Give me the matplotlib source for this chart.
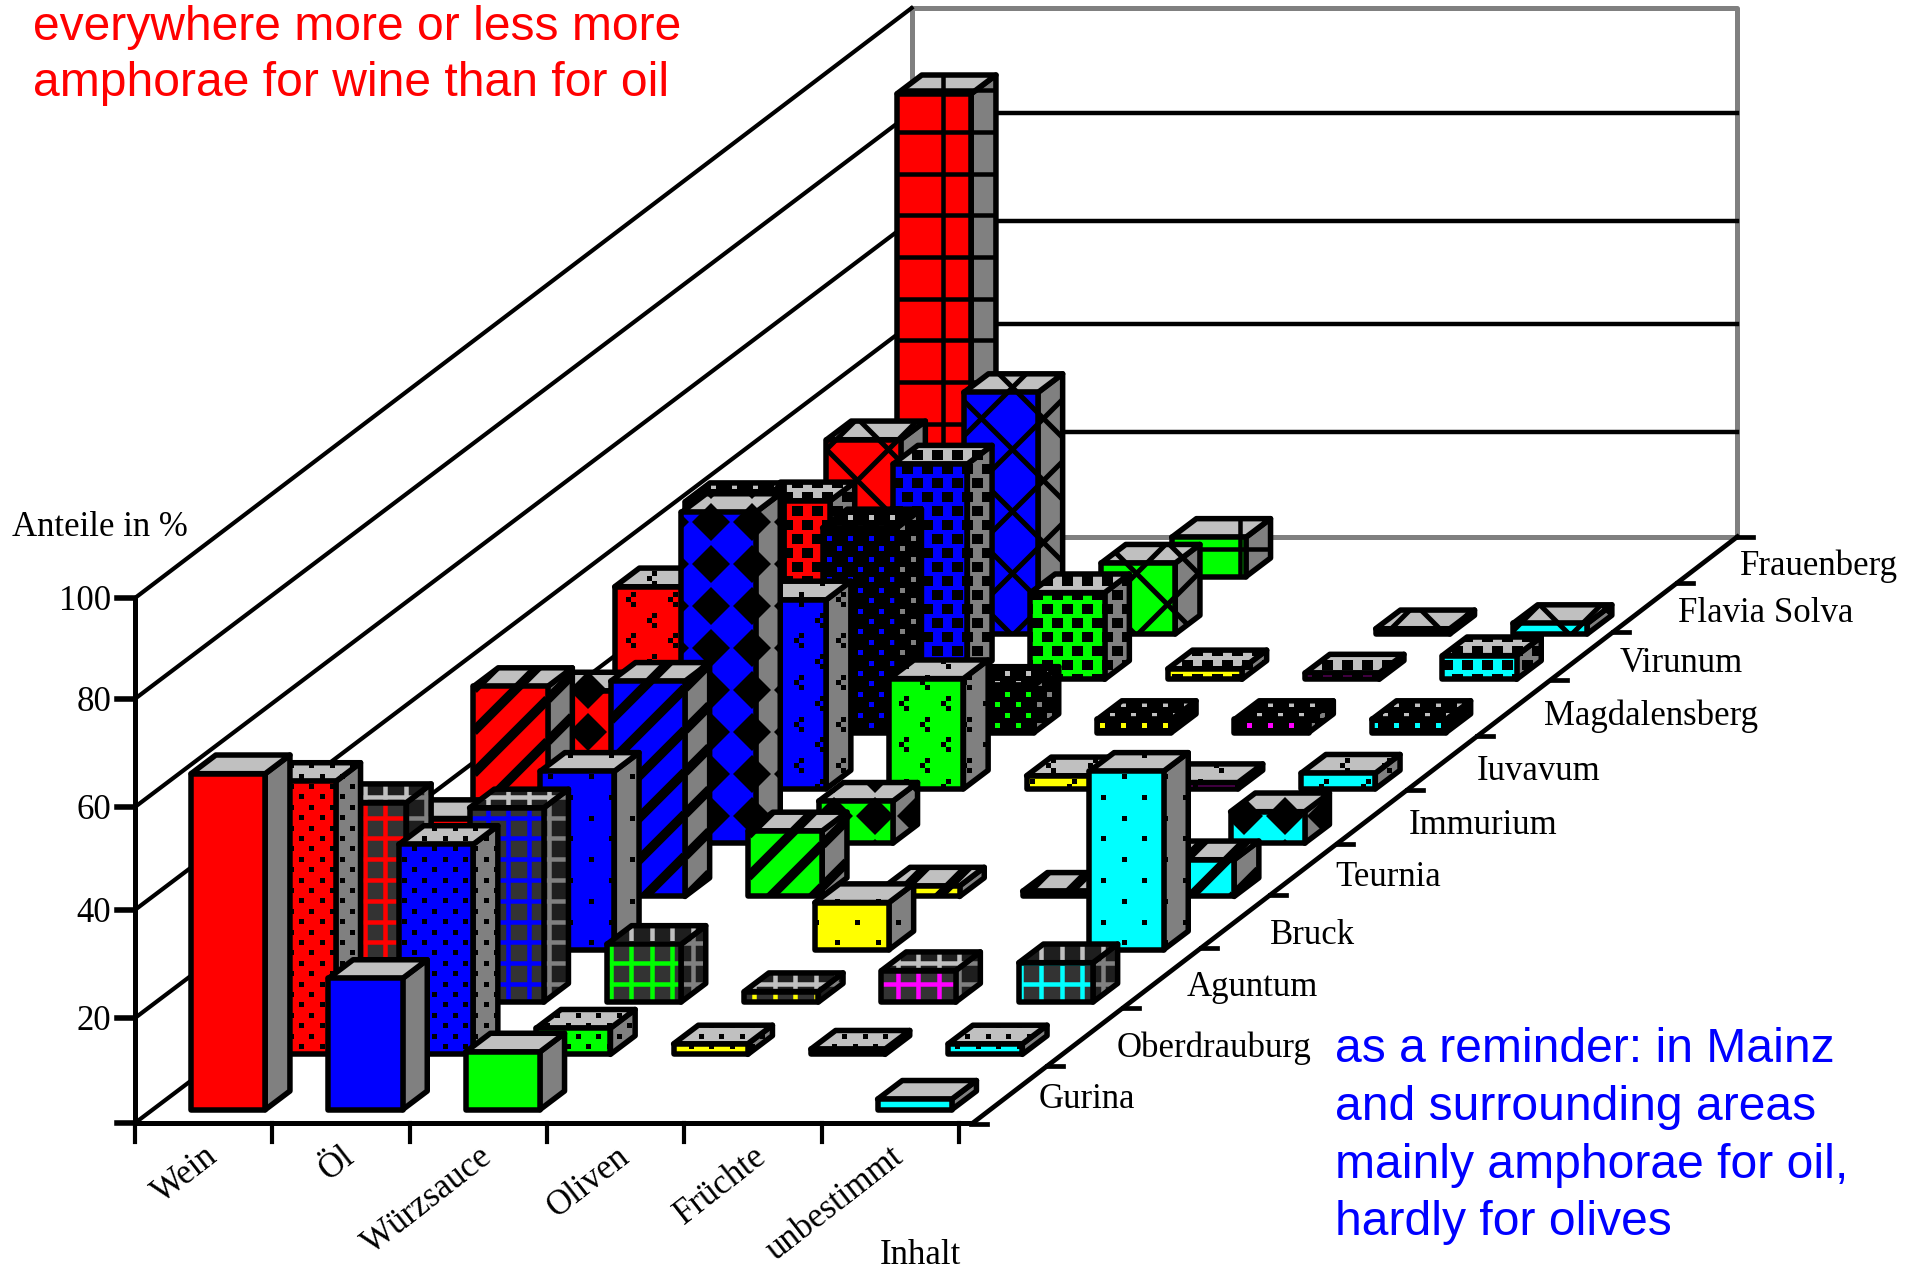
# coding:utf-8
import matplotlib
matplotlib.use('Agg')
import matplotlib.pyplot as plt
from matplotlib.patches import Polygon
from matplotlib.collections import PolyCollection, LineCollection

contents = ['Wein', 'Öl', 'Würzsauce', 'Oliven', 'Früchte', 'unbestimmt']
sites = ['Gurina', 'Oberdrauburg', 'Aguntum', 'Bruck', 'Teurnia', 'Immurium',
         'Iuvavum', 'Magdalensberg', 'Virunum', 'Flavia Solva', 'Frauenberg']
y_ticks = [20, 40, 60, 80, 100]

# one value per site, in percent
wein = [64, 52, 38, 25, 40, 29, 38.5, 44, 34, 37, 92]
oel = [25, 40, 37, 34, 41, 63, 36, 39, 41, 46, 0]
wuerzsauce = [11, 5, 11, 0, 12.5, 8, 21, 9, 16.5, 13.5, 7.5]
oliven = [0, 2, 2, 9, 2, 0, 2.5, 2.5, 2, 0, 0]
fruechte = [0, 1, 6, 0, 1, 0, 1.2, 2.5, 1.2, 1, 0]
unbestimmt = [2, 2, 7.5, 34, 7, 6, 3, 2.5, 4.5, 2, 0]

series = [wein, oel, wuerzsauce, oliven, fruechte, unbestimmt]
colors = ['#ff0000', '#0000ff', '#00ff00', '#ffff00', '#ff00ff', '#00ffff']
patterns = ['solid', 'dots', 'grid', 'sparse', 'stripes', 'diamond',
            'cluster', 'dense', 'blotch', 'cross', 'biggrid']

# the old bitmap has uneven rows and ticks
row_shift = [0, -2, -1, 0, 0, 0, -1, -4, -4, 4, 0]
tick_level = [20, 40.6, 60.2, 80.8, 100]
depth_tick_y = [1124, 1066, 1008, 948, 895, 844, 790, 736, 680, 632, 583, 537]
site_label_x = [1039, 1117, 1187, 1270, 1335, 1409, 1477, 1544, 1620, 1678, 1740]
site_label_y = [1100, 1048, 987, 935, 877, 826, 771, 716, 663, 614, 566]

X0, Y0 = 135, 1123
CAT_W, DEPTH_X, DEPTH_Y, UNIT = 137.3, 70.6, 53.3, 5.25
LW = 5.5 * 0.72
SERIF = 'Liberation Serif'
SANS = 'Liberation Sans'
FS = 25
NOTE_FS = 34.6


def proj(c, d, v=0):
    return X0 + c * CAT_W + d * DEPTH_X, Y0 - d * DEPTH_Y - v * UNIT


# brushes are laid out on the screen, not on the bar, like the old GDI ones
def lattice(poly, ax0, ay0, px, py, stagger=True):
    xs = [p[0] for p in poly]
    ys = [p[1] for p in poly]
    pts = []
    j0 = int((ay0 - max(ys)) / py) - 2
    j1 = int((ay0 - min(ys)) / py) + 2
    i0 = int((min(xs) - ax0) / px) - 2
    i1 = int((max(xs) - ax0) / px) + 2
    for j in range(j0, j1):
        y = ay0 - j * py
        for i in range(i0, i1):
            shift = 0.5 * (j % 2) if stagger else 0
            pts.append((ax0 + (i + shift) * px, y))
    return pts


def square(x, y, s):
    return [(x - s / 2, y - s / 2), (x + s / 2, y - s / 2), (x + s / 2, y + s / 2), (x - s / 2, y + s / 2)]


def start_at(anchor, period, low):
    return low - (low - anchor) % period


def pattern_artist(kind, poly, fg):
    xs = [p[0] for p in poly]
    ys = [p[1] for p in poly]
    xmin, xmax, ymin, ymax = min(xs), max(xs), min(ys), max(ys)
    if kind in ('dots', 'sparse', 'dense', 'blotch'):
        ax0, ay0, px, py, s = {'dots': (14.6, 6.5, 20.5, 10.4, 5), 'sparse': (17, 27.6, 41, 20.8, 5),
                               'dense': (10.3, 18.3, 21, 10.4, 5), 'blotch': (17.4, 7, 20, 14, 10.5)}[kind]
        cells = [square(x, y, s) for x, y in lattice(poly, ax0, ay0, px, py)]
        return PolyCollection(cells, facecolors=fg, edgecolors='none')
    if kind == 'cluster':
        cells = []
        for x, y in lattice(poly, 20.7, 37.6, 42, 20.8):
            cells += [square(x + 4, y - 5, 5), square(x - 1, y, 5), square(x + 4, y + 5, 5)]
        return PolyCollection(cells, facecolors=fg, edgecolors='none')
    if kind == 'diamond':
        r = 19
        cells = [[(x - r, y), (x, y - r), (x + r, y), (x, y + r)]
                 for x, y in lattice(poly, 14, 18, 41, 42, stagger=False)]
        return PolyCollection(cells, facecolors=fg, edgecolors='none')
    segs = []
    if kind in ('grid', 'biggrid'):
        if kind == 'grid':
            ax0, ay0, px, py = 16, 6.5, 20.5, 20.8
        else:
            ax0, ay0, px, py = 943, 6.9, 99, 41.7
        x = start_at(ax0, px, xmin)
        while x < xmax:
            segs.append([(x, ymin), (x, ymax)])
            x += px
        y = start_at(ay0, py, ymin)
        while y < ymax:
            segs.append([(xmin, y), (xmax, y)])
            y += py
        return LineCollection(segs, colors=fg, linewidths=4.5 * 0.72)
    if kind == 'stripes':
        period, lw, up0, down0 = 42, 9.5, 29, None
    else:
        period, lw, up0, down0 = 62, 5, 36, 57
    # up: x + y constant, down: y - x constant
    c = start_at(up0, period, xmin + ymin)
    while c < xmax + ymax:
        segs.append([(xmin, c - xmin), (xmax, c - xmax)])
        c += period
    if down0 is not None:
        c = start_at(down0, period, ymin - xmax)
        while c < ymax - xmin:
            segs.append([(xmin, c + xmin), (xmax, c + xmax)])
            c += period
    return LineCollection(segs, colors=fg, linewidths=lw * 0.72)


def draw_face(ax, poly, face, kind, z):
    if kind == 'solid':
        bg, fg = face[0], None
    elif kind == 'grid':
        bg, fg = face[1], face[0]
    elif kind == 'dense':
        bg, fg = '#000000', face[0]
    else:
        bg, fg = face[0], '#000000'
    patch = Polygon(poly, closed=True, fc=bg, ec='none', zorder=z)
    ax.add_patch(patch)
    if fg is not None:
        art = pattern_artist(kind, poly, fg)
        art.set_zorder(z)
        ax.add_collection(art, autolim=False)
        art.set_clip_path(patch)
    ax.add_patch(Polygon(poly, closed=True, fc='none', ec='black', lw=LW, joinstyle='round', zorder=z))


def draw_bar(ax, c, d, v, color, kind, z):
    c0, c1 = c + 0.28, c + 0.82
    d0, d1 = d + 0.25, d + 0.6

    def pt(cc, dd, vv=0):
        x, y = proj(cc, dd, vv)
        return x, y + row_shift[d]

    front = [pt(c0, d0), pt(c1, d0), pt(c1, d0, v), pt(c0, d0, v)]
    side = [pt(c1, d0), pt(c1, d1), pt(c1, d1, v), pt(c1, d0, v)]
    top = [pt(c0, d0, v), pt(c1, d0, v), pt(c1, d1, v), pt(c0, d1, v)]
    draw_face(ax, side, ('#808080', '#1e1e1e'), kind, z)
    draw_face(ax, top, ('#c0c0c0', '#1e1e1e'), kind, z + 0.1)
    draw_face(ax, front, (color, '#333333'), kind, z + 0.2)


def draw_frame(ax):
    n = len(sites)
    m = len(contents)
    # back wall
    bl, br = proj(0, n), proj(m, n)
    tl, tr = proj(0, n, 100.7), proj(m, n, 100.7)
    br = (br[0] + 2, br[1])
    tr = (tr[0] + 2, tr[1])
    ax.plot([tl[0], tr[0], br[0], bl[0], tl[0]], [tl[1], tr[1], br[1], bl[1], tl[1]], color='#808080', lw=3.6, zorder=1)
    for v in tick_level[:-1]:
        a, b = proj(0, n, v), proj(m, n, v)
        ax.plot([a[0], b[0] + 2], [a[1], b[1]], color='black', lw=3.2, zorder=1)
    # side wall lines
    for v in [0] + tick_level:
        a, b = proj(0, 0, v), proj(0, n, v)
        if v == 100:
            b = tl
        ax.plot([a[0], b[0]], [a[1], b[1]], color='black', lw=3, zorder=2)
        ax.plot([a[0] - 18, a[0]], [a[1], a[1]], color='black', lw=4, zorder=2)
    a, b = proj(0, 0), proj(0, 0, 100)
    ax.plot([a[0], b[0]], [a[1], b[1]], color='black', lw=3.6, zorder=2)
    # floor front and depth axis
    corner = (proj(m, 0)[0] + 14, Y0)
    ax.plot([X0, corner[0]], [Y0, Y0], color='black', lw=3.6, zorder=2)
    ax.plot([corner[0], br[0]], [corner[1], br[1]], color='black', lw=3.4, zorder=2)
    for c in range(m + 1):
        p = proj(c, 0)
        ax.plot([p[0], p[0]], [p[1], p[1] + 19], color='black', lw=3, zorder=2)
    for ty in depth_tick_y:
        tx = corner[0] + (corner[1] - ty) / (corner[1] - br[1]) * (br[0] - corner[0])
        ax.plot([tx, tx + 16], [ty, ty], color='black', lw=3.4, zorder=2)


def draw_labels(ax):
    for tick, level in zip(y_ticks, tick_level):
        p = proj(0, 0, level)
        ax.text(p[0] - 24, p[1] + 4, str(tick), family=SERIF, fontsize=FS, ha='right', va='center')
    ax.text(12, 528, 'Anteile in %', family=SERIF, fontsize=FS, ha='left', va='center')
    for c, name in enumerate(contents):
        p = proj(c + 0.5, 0)
        ax.text(p[0] + 10, p[1] + 30, name, family=SERIF, fontsize=FS, rotation=38,
                rotation_mode='anchor', ha='right', va='center')
    ax.text(920, 1255, 'Inhalt', family=SERIF, fontsize=FS, ha='center', va='center')
    for d, name in enumerate(sites):
        ax.text(site_label_x[d], site_label_y[d], name, family=SERIF, fontsize=FS, ha='left', va='center')
    ax.text(33, 27, 'everywhere more or less more', family=SANS, fontsize=NOTE_FS, color='#ff0000', va='center')
    ax.text(33, 84, 'amphorae for wine than for oil', family=SANS, fontsize=NOTE_FS, color='#ff0000', va='center')
    blue_lines = ['as a reminder: in Mainz', 'and surrounding areas', 'mainly amphorae for oil,', 'hardly for olives']
    for i, line in enumerate(blue_lines):
        ax.text(1335, 1050 + i * 57.5, line, family=SANS, fontsize=NOTE_FS, color='#0000ff', va='center')


def main():
    fig = plt.figure(figsize=(19.05, 12.78), dpi=100)
    ax = fig.add_axes([0, 0, 1, 1])
    ax.set_xlim(0, 1905)
    ax.set_ylim(1278, 0)
    ax.axis('off')
    draw_frame(ax)
    z = 10
    for d in range(len(sites) - 1, -1, -1):
        for c in range(len(contents)):
            v = series[c][d]
            if v > 0:
                draw_bar(ax, c, d, v, colors[c], patterns[d], z)
                z += 1
    draw_labels(ax)
    fig.savefig('out.png', dpi=100, facecolor='white')


if __name__ == '__main__':
    main()
